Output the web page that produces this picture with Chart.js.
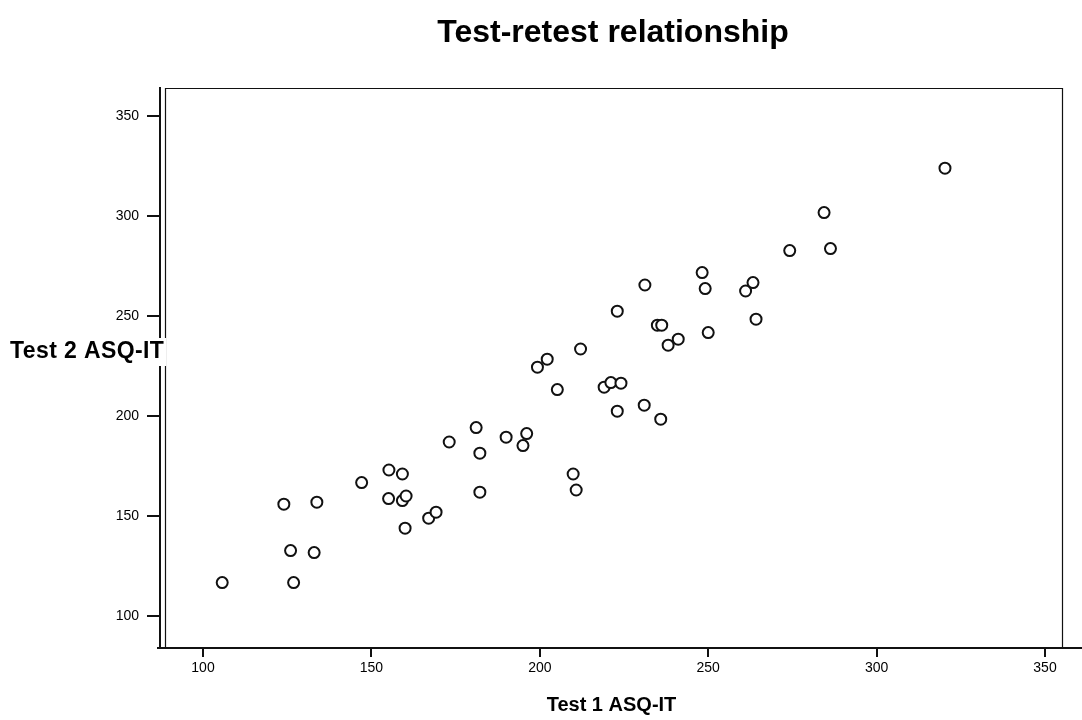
<!DOCTYPE html>
<html>
<head>
<meta charset="utf-8">
<script src="https://cdn.jsdelivr.net/npm/chart.js@4"></script>
<style>
  html, body { margin: 0; padding: 0; background: #fff; }
  #wrap { width: 1082px; height: 720px; }
</style>
</head>
<body>
<div id="wrap"><canvas id="c" width="1082" height="720"></canvas></div>
<script>
const test1 = [105.7,124.0,126.0,126.9,133.0,133.8,147.1,155.2,155.1,159.2,159.2,160.3,160.0,167.0,169.2,173.1,181.1,182.2,182.2,190.0,195.0,196.1,199.3,202.2,205.2,209.9,210.8,212.1,219.1,221.1,224.1,223.0,223.0,231.0,231.2,234.9,236.2,235.9,238.1,241.1,248.2,249.1,250.0,261.1,263.3,264.2,274.2,284.4,286.3,320.3];
const test2 = [116.7,155.9,132.7,116.7,131.7,156.9,166.7,173.0,158.7,171.0,157.7,160.0,143.9,148.9,151.9,187.0,194.2,181.4,161.9,189.4,185.2,191.2,224.4,228.4,213.2,171.0,163.0,233.5,214.4,216.7,216.4,202.4,252.4,205.4,265.5,245.4,245.4,198.4,235.4,238.4,271.7,263.7,241.7,262.5,266.7,248.4,282.7,301.7,283.7,323.9];
const xTickValues = [100,150,200,250,300,350];
const yTickValues = [100,150,200,250,300,350];
const titleText = 'Test-retest relationship';
const xTitle = 'Test 1 ASQ-IT';
const yTitle = 'Test 2 ASQ-IT';

const points = test1.map((x, i) => ({x: x, y: test2[i]}));

const FONT = "'Liberation Sans', Arial, Helvetica, sans-serif";

const framePlugin = {
  id: 'frame',
  afterDatasetsDraw(chart) {
    const ctx = chart.ctx;
    const a = chart.chartArea;
    ctx.save();
    ctx.strokeStyle = '#111';
    ctx.lineWidth = 1.2;
    ctx.beginPath();
    ctx.moveTo(a.left + 5.5, a.top);
    ctx.lineTo(a.left + 5.5, a.bottom);
    ctx.moveTo(a.left + 5, a.top + 0.5);
    ctx.lineTo(a.right, a.top + 0.5);
    ctx.moveTo(a.right - 0.5, a.top);
    ctx.lineTo(a.right - 0.5, a.bottom);
    ctx.stroke();
    ctx.lineWidth = 2;
    ctx.beginPath();
    ctx.moveTo(a.left - 3, a.bottom);
    ctx.lineTo(chart.width, a.bottom);
    ctx.stroke();
    ctx.restore();
  },
  afterDraw(chart) {
    const ctx = chart.ctx;
    const yS = chart.scales.y;
    const yc = yS.getPixelForValue(232);
    ctx.save();
    // y-axis title (horizontal)
    ctx.font = 'bold 23px ' + FONT;
    try { ctx.letterSpacing = '0.4px'; } catch (e) {}
    ctx.textBaseline = 'middle';
    ctx.textAlign = 'left';
    const w = ctx.measureText(yTitle).width;
    ctx.fillStyle = '#fff';
    ctx.fillRect(8, yc - 14, w + 4, 28);
    ctx.fillStyle = '#000';
    ctx.fillText(yTitle, 10, yc);
    // chart title
    ctx.font = 'bold 32px ' + FONT;
    try { ctx.letterSpacing = '0px'; } catch (e) {}
    ctx.textAlign = 'center';
    ctx.fillText(titleText, 613, 33);
    ctx.restore();
  }
};

new Chart(document.getElementById('c'), {
  type: 'scatter',
  data: {
    datasets: [{
      data: points,
      pointStyle: 'circle',
      pointRadius: 5.5,
      pointHoverRadius: 5.5,
      pointBorderWidth: 2,
      borderColor: '#111',
      backgroundColor: '#fff',
      pointBorderColor: '#111',
      pointBackgroundColor: '#fff'
    }]
  },
  options: {
    responsive: false,
    animation: false,
    layout: { padding: { left: 0, right: 19, top: 88, bottom: 0 } },
    plugins: {
      legend: { display: false },
      tooltip: { enabled: false },
      title: { display: false }
    },
    scales: {
      x: {
        type: 'linear',
        min: 87.23,
        max: 355.34,
        afterFit(scale) { scale.height = 72; },
        afterBuildTicks(scale) { scale.ticks = xTickValues.map(v => ({value: v})); },
        border: { display: true, color: '#111', width: 2 },
        grid: { display: true, drawOnChartArea: false, drawTicks: true, tickLength: 9, color: '#111', lineWidth: 2 },
        ticks: { color: '#000', font: { family: FONT, size: 14 }, padding: 3, maxRotation: 0 },
        title: { display: true, text: xTitle, color: '#000', font: { family: FONT, size: 20, weight: 'bold' }, padding: { top: 0, bottom: 3 } }
      },
      y: {
        type: 'linear',
        min: 84,
        max: 364,
        afterFit(scale) { scale.width = 160; },
        afterBuildTicks(scale) { scale.ticks = yTickValues.map(v => ({value: v})); },
        border: { display: true, color: '#111', width: 2 },
        grid: { display: true, drawOnChartArea: false, drawTicks: true, tickLength: 13, color: '#111', lineWidth: 2 },
        ticks: { color: '#000', font: { family: FONT, size: 14 }, padding: 8 }
      }
    }
  },
  plugins: [framePlugin]
});
</script>
</body>
</html>
